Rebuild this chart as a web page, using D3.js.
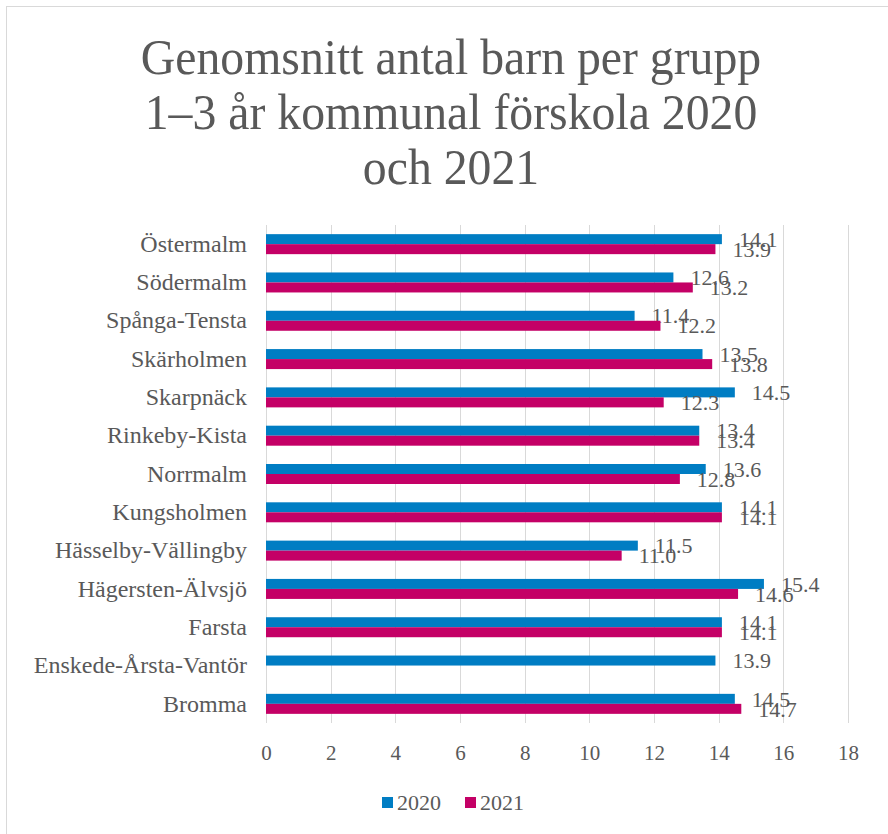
<!DOCTYPE html>
<html>
<head>
<meta charset="utf-8">
<script src="https://cdn.jsdelivr.net/npm/d3@7"></script>
<style>
  html, body { margin: 0; padding: 0; background: #fff; }
  svg { display: block; }
</style>
</head>
<body>
<script>
// ---- Data ----
const categories = ["Östermalm", "Södermalm", "Spånga-Tensta", "Skärholmen", "Skarpnäck",
  "Rinkeby-Kista", "Norrmalm", "Kungsholmen", "Hässelby-Vällingby", "Hägersten-Älvsjö",
  "Farsta", "Enskede-Årsta-Vantör", "Bromma"];
const values2020 = [14.1, 12.6, 11.4, 13.5, 14.5, 13.4, 13.6, 14.1, 11.5, 15.4, 14.1, 13.9, 14.5];
const values2021 = [13.9, 13.2, 12.2, 13.8, 12.3, 13.4, 12.8, 14.1, 11.0, 14.6, 14.1, null, 14.7];
const seriesNames = ["2020", "2021"];
const xTicks = [0, 2, 4, 6, 8, 10, 12, 14, 16, 18];
const titleLines = ["Genomsnitt antal barn per grupp", "1–3 år kommunal förskola 2020", "och 2021"];

const FONT = '"Liberation Serif", serif';
const TXT = "#595959";
const colors = ["#007dc3", "#c40066"];
const W = 888, H = 834;
const plot = { left: 266, right: 848, top: 225, bottom: 723 };

const svg = d3.select("body").append("svg").attr("width", W).attr("height", H);

// Chart border
svg.append("rect").attr("x", 6.5).attr("y", 6.5).attr("width", 1000).attr("height", 1000)
  .attr("fill", "#fff").attr("stroke", "#d9d9d9").attr("stroke-width", 1);

// Title
svg.append("g").selectAll("text").data(titleLines).join("text")
  .attr("transform", (d, i) => `translate(451,${74 + i * 55}) scale(0.955,1)`)
  .attr("text-anchor", "middle")
  .style("font-family", FONT).style("font-size", "50px").style("fill", TXT)
  .text(d => d);

const x = d3.scaleLinear().domain([0, 18]).range([plot.left, plot.right]);
const y = d3.scaleBand().domain(categories).range([plot.top, plot.bottom]).paddingInner(0).paddingOuter(0);
const barH = 10;

// Gridlines
svg.append("g").selectAll("line").data(xTicks).join("line")
  .attr("x1", d => Math.round(x(d)) + 0.5).attr("x2", d => Math.round(x(d)) + 0.5)
  .attr("y1", plot.top).attr("y2", plot.bottom)
  .attr("stroke", "#d9d9d9").attr("stroke-width", 1);

// X axis tick labels
const xAxis = d3.axisBottom(x).tickValues(xTicks).tickSize(0).tickPadding(0).tickFormat(d3.format("d"));
const gx = svg.append("g").attr("transform", `translate(0,${plot.bottom + 22})`).call(xAxis);
gx.select(".domain").remove();
gx.selectAll("text").style("font-size", "21px").style("fill", TXT).style("font-family", FONT);

// Y axis labels
const yAxis = d3.axisLeft(y).tickSize(0).tickPadding(19);
const gy = svg.append("g").attr("transform", `translate(${plot.left},0)`).call(yAxis);
gy.select(".domain").remove();
gy.selectAll("text").style("font-size", "24px").style("fill", TXT).style("font-family", FONT);

// Bars
const series = [values2020, values2021];
series.forEach((vals, si) => {
  const data = categories.map((c, i) => ({ c, v: vals[i] })).filter(d => d.v != null);
  const g = svg.append("g");
  g.selectAll("rect").data(data).join("rect")
    .attr("x", x(0))
    .attr("y", d => y(d.c) + y.bandwidth() / 2 - barH + si * barH)
    .attr("width", d => x(d.v) - x(0))
    .attr("height", barH)
    .attr("fill", colors[si]);
  g.selectAll("text").data(data).join("text")
    .attr("x", d => x(d.v) + 17)
    .attr("y", d => y(d.c) + y.bandwidth() / 2 - barH / 2 + si * barH)
    .attr("dy", "0.35em")
    .style("font-family", FONT).style("font-size", "22px").style("fill", TXT)
    .text(d => d.v.toFixed(1));
});

// Legend
const legend = svg.append("g");
const legendX = [382, 465];
seriesNames.forEach((n, i) => {
  legend.append("rect").attr("x", legendX[i]).attr("y", 797).attr("width", 11).attr("height", 11).attr("fill", colors[i]);
  legend.append("text").attr("x", legendX[i] + 15).attr("y", 810)
    .style("font-family", FONT).style("font-size", "22px").style("fill", TXT).text(n);
});
</script>
</body>
</html>
